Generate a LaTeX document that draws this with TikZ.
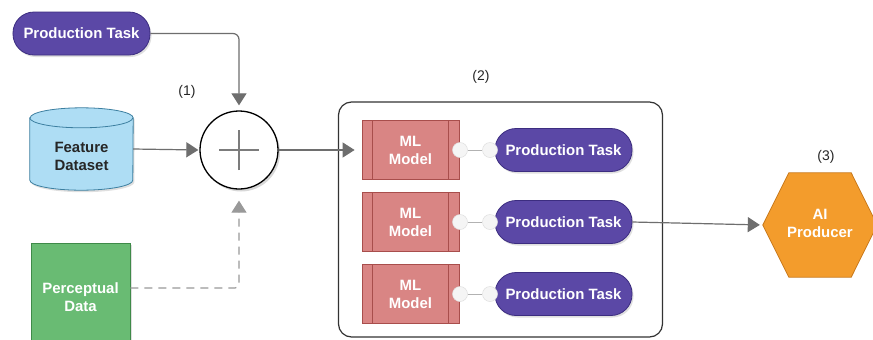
\documentclass[tikz,border=0pt]{standalone}
\usepackage{fontspec}
\setmainfont{Liberation Sans}
\usetikzlibrary{arrows.meta,shapes.geometric,shadows}
\definecolor{ptfill}{HTML}{5B48A6}
\definecolor{ptdraw}{HTML}{3C2D80}
\definecolor{cylfill}{HTML}{AEDDF4}
\definecolor{cyldraw}{HTML}{3C7FA0}
\definecolor{grfill}{HTML}{69BB73}
\definecolor{grdraw}{HTML}{3F8A49}
\definecolor{mlfill}{HTML}{D98584}
\definecolor{mldraw}{HTML}{A84E4C}
\definecolor{hxfill}{HTML}{F39C2C}
\definecolor{hxdraw}{HTML}{C97A1C}
\definecolor{conn}{HTML}{6E6E6E}
\tikzset{
  shade/.style={drop shadow={opacity=0.25,shadow xshift=1.5bp,shadow yshift=-2bp}},
  lbl/.style={font=\fontsize{15}{18}\selectfont\bfseries, text=white, align=center},
  pill/.style={lbl, rounded corners=21bp, fill=ptfill, draw=ptdraw, line width=0.8bp,
    minimum width=137bp, minimum height=43bp, inner sep=0pt, shade},
  mlbox/.style={lbl, fill=mlfill, draw=mldraw, line width=0.8bp,
    minimum width=97bp, minimum height=59bp, inner sep=0pt},
  port/.style={circle, fill=gray!8, draw=gray!25, line width=0.5bp, minimum size=15bp, inner sep=0pt},
  arr/.style={draw=conn, line width=1.2bp, -{Triangle[length=12bp,width=15bp]}},
  num/.style={font=\fontsize{14}{17}\selectfont, text=black!85}
}
\begin{document}
\begin{tikzpicture}[x=1bp,y=-1bp]
\useasboundingbox (0,0) rectangle (873,339);
\clip (0,0) rectangle (873,339);
\fill[white] (0,0) rectangle (873,339);

% container
\node[draw=black!80, line width=1.2bp, rounded corners=13bp, minimum width=324bp, minimum height=235bp, inner sep=0pt] (cont) at (500.5,219.5) {};
\node[num] (n2) at (481,77) {(2)};

% production task top
\node[pill] (pt0) at (81.5,33.5) {Production Task};

% cylinder
\node[minimum width=103bp, minimum height=82bp, inner sep=0pt] (fd) at (81.5,149) {};
\path[fill=cylfill, draw=cyldraw, line width=0.8bp, drop shadow={opacity=0.25,shadow xshift=1.5bp,shadow yshift=-2bp}]
  ([yshift=-10bp]fd.north west) -- ([yshift=10bp]fd.south west)
  arc[start angle=180, end angle=360, x radius=51.5bp, y radius=10bp]
  -- ([yshift=-10bp]fd.north east)
  arc[start angle=0, end angle=180, x radius=51.5bp, y radius=10bp] -- cycle;
\draw[cyldraw, line width=0.8bp] ([yshift=-10bp]fd.north west)
  arc[start angle=180, end angle=360, x radius=51.5bp, y radius=10bp];
\node[lbl, text=black!85, align=center] (fdt) at (81.5,156) {Feature\\Dataset};

% perceptual data
\node[lbl, fill=grfill, draw=grdraw, line width=0.8bp, minimum width=99bp, minimum height=108bp, inner sep=0pt, shade] (pd) at (80.5,297) {Perceptual\\Data};

% combiner
\node[circle, draw=black, line width=1.3bp, fill=white, minimum size=78bp, inner sep=0pt,
  drop shadow={opacity=0.3,shadow xshift=2bp,shadow yshift=-2.5bp}] (plus) at (239,150) {};
\draw[conn!90, line width=1.1bp] ([xshift=-20bp]plus.center) -- ([xshift=20bp]plus.center)
  ([yshift=-20bp]plus.center) -- ([yshift=20bp]plus.center);
\node[num] (n1) at (187,92) {(1)};

% ML models
\foreach \i/\y in {1/150,2/222,3/294}{
  \node[mlbox] (ml\i) at (410.5,\y) {ML\\Model};
  \draw[mldraw, line width=0.8bp] ([xshift=11bp]ml\i.north west) -- ([xshift=11bp]ml\i.south west)
    ([xshift=-11bp]ml\i.north east) -- ([xshift=-11bp]ml\i.south east);
  \node[pill] (pt\i) at (563.5,\y) {Production Task};
  \node[port] (pa\i) at (460,\y) {};
  \node[port] (pb\i) at (490,\y) {};
  \draw[gray!60, line width=0.6bp] (pa\i) -- (pb\i);
}

% AI producer
\node[minimum width=114bp, minimum height=104bp, inner sep=0pt] (ai) at (820,225) {};
\path[fill=hxfill, draw=hxdraw, line width=0.8bp]
  (ai.west) -- ([xshift=26bp]ai.north west) -- ([xshift=-26bp]ai.north east)
  -- (ai.east) -- ([xshift=-26bp]ai.south east) -- ([xshift=26bp]ai.south west) -- cycle;
\node[lbl] (ait) at (820,223) {AI\\Producer};
\node[num] (n3) at (826,157) {(3)};

% connectors
\draw[arr, rounded corners=6bp, shorten >=5bp] (pt0.east) -| (plus.north);
\draw[arr, shorten >=1bp] (fd.east) -- (plus.west);
\draw[arr, dashed, dash pattern=on 8bp off 6bp, draw=conn!70, rounded corners=4bp, shorten >=11bp] (pd.east |- 0,288) -| (plus.south);
\draw[arr, shorten >=7bp] (plus.east) -- (ml1.west);
\draw[arr, shorten >=3bp] (pt2.east) -- (ai.west);
\end{tikzpicture}
\end{document}
